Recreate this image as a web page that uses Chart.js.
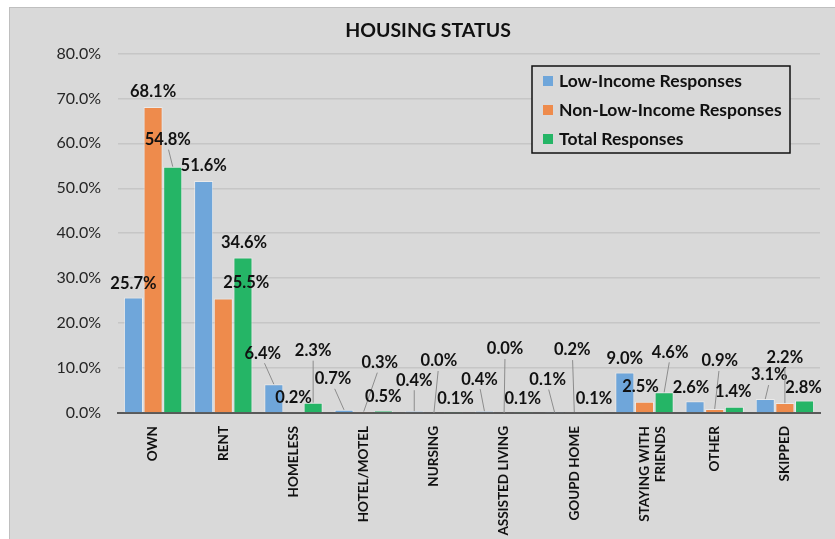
<!DOCTYPE html>
<html lang="en">
<head>
<meta charset="UTF-8">
<title>Housing Status</title>
<style>
  html, body { margin: 0; padding: 0; background: #fff; overflow: hidden; }
  .frame {
    position: absolute; left: 9px; top: 7px;
    width: 900px; height: 600px;
    background: #d9d9d9; border: 1px solid #bfbfbf;
  }
  #chartWrap { position: absolute; left: 0; top: 0; width: 835px; height: 539px; }
</style>
</head>
<body>
<div class="frame"></div>
<div id="chartWrap"><canvas id="housingChart" width="835" height="539"></canvas></div>

<script src="https://cdn.jsdelivr.net/npm/chart.js"></script>
<script>
  // categories + values (percent)
  const categories = ['OWN', 'RENT', 'HOMELESS', 'HOTEL/MOTEL', 'NURSING', 'ASSISTED LIVING',
    'GOUPD HOME', ['STAYING WITH', 'FRIENDS'], 'OTHER', 'SKIPPED'];
  const lowIncome    = [25.7, 51.6, 6.4, 0.7, 0.4, 0.4, 0.1, 9.0, 2.6, 3.1];
  const nonLowIncome = [68.1, 25.5, 0.2, 0.3, 0.0, 0.0, 0.2, 2.5, 0.9, 2.2];
  const totalResp    = [54.8, 34.6, 2.3, 0.5, 0.1, 0.1, 0.1, 4.6, 1.4, 2.8];
  const seriesNames  = ['Low-Income Responses', 'Non-Low-Income Responses', 'Total Responses'];
  const yMin = 0, yMax = 80, yStep = 10;

  const colors = ['#6fa6da', '#ee8b4c', '#25b566'];

  // label placement relative to bar top: [dx, dy, leader line]
  const labelPos = [
    [[0,-14,0],[0,-15,0],[-11,-31,1],[-11,-31,1],[0,-31,1],[-5,-32,1],[-7,-33,1],[0,-14,0],[-4,-14,0],[4,-24,1]],
    [[0,-15,0],[23,-16,0],[0,-14,0],[16,-49,1],[5,-52,1],[1,-64,1],[-2,-62,1],[-4,-15,0],[5,-48,1],[0,-45,1]],
    [[-5,-27,1],[1,-15,0],[0,-52,1],[0,-14,0],[2,-14,0],[-1,-14,0],[0,-14,0],[6,-40,1],[-1,-15,0],[-1,-13,0]]
  ];

  const FONT = 'Lato, "Open Sans", sans-serif';

  const valueLabels = {
    id: 'valueLabels',
    afterDatasetsDraw(chart) {
      const ctx = chart.ctx;
      ctx.save();
      ctx.font = 'bold 16.5px ' + FONT;
      ctx.textAlign = 'center';
      ctx.textBaseline = 'middle';
      chart.data.datasets.forEach((ds, di) => {
        const meta = chart.getDatasetMeta(di);
        meta.data.forEach((bar, i) => {
          const p = labelPos[di][i];
          const tx = bar.x + p[0], ty = bar.y + p[1];
          if (p[2]) {
            ctx.strokeStyle = '#8c8c8c';
            ctx.lineWidth = 1;
            ctx.beginPath();
            ctx.moveTo(tx + (bar.x - tx) * 0.15, ty + 10);
            ctx.lineTo(bar.x, bar.y);
            ctx.stroke();
          }
          ctx.fillStyle = '#111';
          ctx.fillText(ds.data[i].toFixed(1) + '%', tx, ty);
        });
      });
      ctx.restore();
    }
  };

  const boxLegend = {
    id: 'boxLegend',
    afterDraw(chart) {
      const ctx = chart.ctx;
      const x = 532, y = 66, w = 258, h = 87;
      ctx.save();
      ctx.fillStyle = '#d9d9d9';
      ctx.fillRect(x, y, w, h);
      ctx.strokeStyle = '#111';
      ctx.lineWidth = 1.5;
      ctx.strokeRect(x, y, w, h);
      ctx.font = 'bold 17.5px ' + FONT;
      ctx.textBaseline = 'middle';
      chart.data.datasets.forEach((ds, i) => {
        const cy = y + 15 + i * 29;
        ctx.fillStyle = ds.backgroundColor;
        ctx.fillRect(x + 11, cy - 5, 10, 10);
        ctx.fillStyle = '#111';
        ctx.fillText(ds.label, x + 27, cy);
      });
      ctx.restore();
    }
  };

  const datasets = [lowIncome, nonLowIncome, totalResp].map((d, i) => ({
    label: seriesNames[i],
    data: d,
    backgroundColor: colors[i],
    borderColor: 'rgba(255,255,255,0.45)',
    borderWidth: 1,
    categoryPercentage: 0.84,
    barPercentage: 0.97
  }));

  new Chart(document.getElementById('housingChart'), {
    type: 'bar',
    data: { labels: categories, datasets: datasets },
    options: {
      responsive: false,
      animation: false,
      layout: { padding: { left: 36, right: 15, top: 0, bottom: 0 } },
      plugins: {
        legend: { display: false },
        tooltip: { enabled: false },
        title: {
          display: true,
          text: 'HOUSING STATUS',
          color: '#111',
          font: { family: FONT, size: 19.5, weight: 'bold', lineHeight: 1.2 },
          padding: { top: 19, bottom: 11 }
        }
      },
      scales: {
        x: {
          grid: { display: false, drawTicks: false },
          border: { color: '#595959', width: 2 },
          ticks: {
            color: '#111',
            font: { family: FONT, size: 13.5, weight: 'bold' },
            minRotation: 90, maxRotation: 90,
            padding: 13
          },
          afterFit: s => { s.height = 126; }
        },
        y: {
          min: yMin, max: yMax,
          grid: {
            color: c => c.tick.value === 0 ? 'rgba(0,0,0,0)' : '#c6c6c6',
            lineWidth: 1.5,
            drawTicks: false
          },
          border: { display: false },
          ticks: {
            stepSize: yStep,
            color: '#262626',
            font: { family: FONT, size: 16 },
            padding: 17,
            callback: v => v.toFixed(1) + '%'
          },
          afterFit: s => { s.width = 82; }
        }
      }
    },
    plugins: [valueLabels, boxLegend]
  });
</script>
</body>
</html>
